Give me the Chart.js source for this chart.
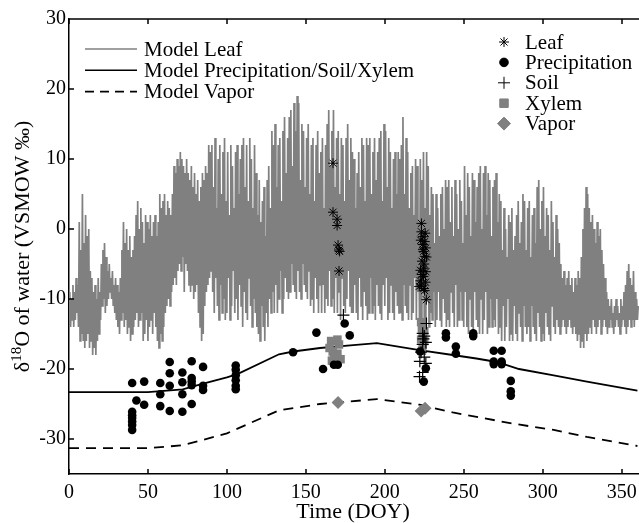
<!DOCTYPE html>
<html>
<head>
<meta charset="utf-8">
<script src="https://cdn.jsdelivr.net/npm/chart.js@4"></script>
<style>
  html, body { margin: 0; padding: 0; background: #fff; overflow: hidden; }
  canvas { display: block; }
</style>
</head>
<body>
<canvas id="myChart" width="639" height="523"></canvas>
<script>
// axis ticks
const xTicks = [0, 50, 100, 150, 200, 250, 300, 350]
const yTicks = [-30, -20, -10, 0, 10, 20, 30]

// model leaf water, daily min / max (day 0..360)
const leafMax = [
  -9, -10, -8, -9, -7, -8, 1, -3, 5, -2,
  2, -1, 0, -6, -7, -9, -8, -10, -7, -9,
  -5, -3, -2, -4, -6, -5, -7, -6, -8, -7,
  -8, -9, -7, -3, 1, -2, 0, -3, -1, -4,
  -3, -1, 2, 4, 0, 3, 1, -2, 2, 1,
  0, 2, -1, 1, 2, -1, 1, 5, 3, 4,
  5, 2, 4, 3, 2, 5, 9, 8, 10, 9,
  11, 10, 9, 8, 10, 8, 7, 9, 6, 8,
  5, 7, 4, 6, 8, 7, 9, 8, 12, 11,
  12, 6, 13, 3, 10, 12, 5, 11, 13, 4,
  11, 2, 12, 9, 3, 11, 12, 5, 10, 12,
  13, 6, 12, 4, 13, 10, 3, 12, 8, 2,
  7, 1, 4, 6, -1, 7, 9, 3, 14, 12,
  15, 6, 12, 13, 4, 14, 16, 8, 13, 16,
  17, 9, 18, 14, 19, 18, 7, 15, 14, 6,
  13, 15, 5, 12, 13, 4, 12, 14, 8, 11,
  13, 3, 12, 15, 17, 9, 14, 17, 6, 13,
  14, 5, 13, 12, 4, 13, 15, 7, 13, 11,
  10, 3, 8, 11, 6, 13, 12, 4, 13, 12,
  13, 5, 11, 13, 7, 11, 13, 14, 4, 15,
  14, 6, 13, 11, 3, 10, 11, 5, 11, 10,
  12, 16, 5, 13, 11, 3, 8, 9, 2, 10,
  9, 1, 10, 7, 11, 3, 11, 9, 2, 6,
  5, -2, 5, 3, -1, 5, 6, 0, 7, 6,
  7, 1, 6, -1, 7, 5, 0, 7, 4, -2,
  9, 2, 8, 6, -1, 8, 7, 1, 6, 8,
  9, 0, 8, 9, 2, 8, 7, -1, 6, 7,
  8, 1, 5, 4, -3, 3, 0, -4, 2, 1,
  3, -3, -1, 2, 4, -2, 1, 5, 4, -3,
  3, 4, -4, 2, 3, -2, 6, 7, 0, 4,
  6, -1, 3, 2, -3, 4, 1, -4, 2, 0,
  -2, -5, -7, -6, -8, -7, -6, -8, -7, -9,
  -7, -8, -6, -7, -4, 0, 3, 6, 5, 3,
  1, 2, 0, -2, 1, -1, 0, -3, -5, -7,
  -9, -10, -11, -10, -12, -11, -10, -11, -12, -10,
  -11, -9, -8, -6, -5, -7, -8, -6, -9, -10, -11
]
const leafMin = [
  -13, -14, -13, -14, -13, -12, -14, -16, -15, -16,
  -17, -16, -15, -17, -16, -18, -17, -18, -16, -15,
  -13, -11, -10, -12, -11, -10, -9, -10, -11, -12,
  -13, -14, -15, -13, -12, -14, -13, -15, -14, -16,
  -15, -14, -13, -12, -14, -13, -12, -16, -15, -13,
  -16, -14, -13, -15, -12, -14, -16, -17, -15, -16,
  -14, -12, -11, -10, -11, -9, -8, -7, -8, -6,
  -5, -6, -4, -9, -5, -6, -8, -9, -8, -10,
  -9, -8, -12, -14, -16, -15, -11, -9, -8, -7,
  -6, -9, -12, -7, -11, -13, -8, -12, -10, -13,
  -12, -7, -13, -11, -6, -12, -10, -13, -8, -11,
  -14, -9, -12, -13, -7, -11, -14, -10, -12, -14,
  -15, -16, -11, -14, -16, -12, -14, -10, -12, -9,
  -12, -8, -12, -10, -6, -12, -10, -7, -9, -10,
  -9, -5, -8, -9, -10, -6, -9, -10, -5, -8,
  -9, -10, -6, -11, -10, -12, -7, -10, -12, -8,
  -12, -8, -12, -10, -11, -6, -11, -10, -12, -7,
  -12, -9, -13, -7, -11, -12, -10, -6, -11, -12,
  -12, -8, -12, -13, -7, -11, -13, -9, -11, -13,
  -12, -7, -12, -11, -13, -8, -11, -12, -13, -8,
  -11, -7, -13, -12, -8, -12, -13, -9, -11, -12,
  -12, -13, -8, -11, -12, -13, -8, -13, -12, -7,
  -13, -9, -14, -13, -8, -13, -14, -10, -14, -12,
  -13, -9, -14, -13, -9, -13, -14, -10, -12, -14,
  -13, -14, -9, -12, -14, -8, -14, -13, -9, -13,
  -14, -9, -14, -15, -10, -14, -15, -9, -13, -14,
  -15, -10, -15, -13, -9, -15, -14, -10, -14, -13,
  -14, -10, -15, -14, -16, -11, -16, -14, -10, -16,
  -15, -16, -11, -15, -16, -12, -14, -16, -11, -14,
  -15, -14, -16, -11, -14, -15, -16, -12, -14, -16,
  -15, -16, -12, -14, -15, -16, -11, -14, -15, -13,
  -14, -15, -14, -13, -14, -15, -14, -13, -14, -15,
  -14, -15, -16, -15, -17, -16, -17, -15, -16, -15,
  -14, -15, -13, -14, -15, -14, -13, -15, -14, -13,
  -14, -15, -14, -13, -14, -15, -14, -13, -14, -15,
  -14, -13, -14, -15, -14, -13, -14, -13, -14, -13, -13
]

// model precipitation/soil/xylem and model vapor
const modelDays = [0, 50, 72, 85, 100, 107, 133, 142, 159, 180, 195, 222, 243, 258, 271, 285, 307, 328, 360]
const modelPrecip = [-23.3, -23.3, -22.9, -22.1, -21.2, -20.7, -17.9, -17.5, -17.0, -16.6, -16.3, -17.3, -18.0, -18.5, -19.0, -20.0, -20.9, -21.8, -23.1]
const vaporDays = [0, 50, 72, 100, 133, 159, 195, 222, 243, 281, 307, 328, 355, 360]
const modelVapor = [-31.3, -31.3, -30.9, -29.2, -25.9, -25.0, -24.3, -25.1, -26.2, -27.8, -28.7, -29.7, -30.8, -31.0]

// measured samples
const leafX = [167.2, 167.2, 169.8, 169.8, 170.4, 171, 171.4, 171,
  223.2, 223.2, 224.2, 225.3, 226, 224.5, 225.3, 224.5, 226, 224.5, 222.5, 223.2, 224.8, 221.8, 226.3,
  222.8, 224, 225.6, 223.6, 225, 226.4, 223.4, 225.8, 224.2, 222.6, 225.2]
const leafY = [9.4, 2.4, 1.4, 0.5, -2.3, -3.0, -3.2, -6.0,
  0.8, -0.4, -1.1, -1.8, -2.7, -3.2, -3.9, -5.6, -6.1, -6.8, -7.4, -8.0, -8.5, -8.2, -10.1,
  -1.6, -2.2, -0.6, -4.6, -5.0, -4.0, -6.5, -7.6, -2.9, -5.9, -8.8]
const precipX = [40, 40, 40, 40, 40, 40, 40, 42.7, 47.6, 47.6, 57.8, 57.8, 57.8, 63.8, 63.8, 63.8, 63.8, 71.8, 71.8, 71.8, 71.8,
  77.7, 77.7, 77.7, 77.7, 77.7, 84.9, 84.9, 84.9, 105.6, 105.6, 105.6, 105.6, 105.6, 105.6, 141.9, 156.7, 160.9, 167.8, 170.2,
  174.6, 177.8, 222.4, 226, 224.7, 238.7, 238.7, 245, 245, 256, 256, 269, 269, 269, 274, 274, 274, 279.8, 279.8, 279.8]
const precipY = [-22.0, -26.1, -26.6, -27.0, -27.5, -28.0, -28.7, -24.5, -21.8, -25.1, -22.0, -23.6, -25.3, -19.0, -20.6, -22.4, -26.0, -20.5, -21.9, -23.6, -26.1,
  -18.9, -21.3, -21.8, -22.3, -25.0, -19.7, -22.4, -23.0, -19.5, -20.1, -20.9, -21.6, -22.4, -22.9, -17.6, -14.8, -20.0, -19.4, -19.4,
  -13.5, -15.2, -17.5, -19.9, -21.8, -14.9, -15.5, -16.8, -17.8, -14.9, -15.3, -17.4, -18.95, -19.3, -17.4, -18.95, -19.3, -21.7, -23.2, -23.8]
const soilX = [173.8, 226.4, 224, 225, 224.5, 226, 224, 223, 225, 222.2, 226, 222, 224]
const soilY = [-12.3, -13.5, -14.9, -15.3, -15.7, -16.2, -16.5, -17.6, -18.3, -18.9, -19.2, -21.1, -20.5]
const xylemX = [165, 166, 167, 168, 166.5, 170, 171, 172, 170, 223, 223.5, 224, 223, 224, 223.5, 225, 225]
const xylemY = [-17.0, -16.0, -17.5, -18.5, -18.8, -15.8, -16.5, -18.6, -17.8, -13.3, -14.2, -15.0, -15.8, -16.6, -17.4, -14.6, -16.0]
const vaporX = [170.4, 223, 225.5]
const vaporY = [-24.8, -26.0, -25.6]

const GRAY = '#808080'
const FONT = '"Liberation Serif", "Times New Roman", serif'

const pts = (xs, ys) => xs.map((x, i) => ({ x: x, y: ys[i] }))

// leaf trace zig-zags between the daily low and high
const leafPts = []
leafMax.forEach((hi, d) => {
  leafPts.push({ x: d, y: leafMin[d] })
  leafPts.push({ x: d + 0.5, y: hi })
})

const lineLegend = [
  { label: 'Model Leaf', color: GRAY, dash: [] },
  { label: 'Model Precipitation/Soil/Xylem', color: '#000', dash: [] },
  { label: 'Model Vapor', color: '#000', dash: [9, 6] }
]
const markLegend = [
  { label: 'Leaf', style: 'star', radius: 5, fill: '#000', stroke: '#000' },
  { label: 'Precipitation', style: 'circle', radius: 4.3, fill: '#000', stroke: '#000' },
  { label: 'Soil', style: 'cross', radius: 6, fill: '#000', stroke: '#000' },
  { label: 'Xylem', style: 'rect', radius: 6, fill: GRAY, stroke: GRAY },
  { label: 'Vapor', style: 'rectRot', radius: 6.5, fill: GRAY, stroke: GRAY }
]

const framePlugin = {
  id: 'frame',
  afterDatasetsDraw(chart) {
    const ctx = chart.ctx
    const a = chart.chartArea
    const xs = chart.scales.x
    const ys = chart.scales.y
    ctx.save()
    ctx.strokeStyle = '#000'
    ctx.lineWidth = 1.5
    ctx.beginPath()
    ctx.moveTo(a.left, a.top)
    ctx.lineTo(a.right + 1, a.top)
    xTicks.forEach(v => {
      const px = Math.round(xs.getPixelForValue(v))
      ctx.moveTo(px, a.bottom); ctx.lineTo(px, a.bottom - 5)
      ctx.moveTo(px, a.top); ctx.lineTo(px, a.top + 5)
    })
    yTicks.forEach(v => {
      const py = Math.round(ys.getPixelForValue(v))
      ctx.moveTo(a.left, py); ctx.lineTo(a.left + 5, py)
    })
    ctx.stroke()

    // legends
    ctx.font = '21px ' + FONT
    ctx.textBaseline = 'middle'
    ctx.fillStyle = '#000'
    lineLegend.forEach((it, i) => {
      const y = 49 + i * 21.3
      ctx.strokeStyle = it.color
      ctx.lineWidth = 1.6
      ctx.setLineDash(it.dash)
      ctx.beginPath(); ctx.moveTo(85, y); ctx.lineTo(137, y); ctx.stroke()
      ctx.setLineDash([])
      ctx.fillStyle = '#000'
      ctx.fillText(it.label, 144, y + 1)
    })
    markLegend.forEach((it, i) => {
      const y = 42 + i * 20.4
      ctx.fillStyle = it.fill
      ctx.strokeStyle = it.stroke
      ctx.lineWidth = 1
      Chart.helpers.drawPoint(ctx, { pointStyle: it.style, radius: it.radius, borderWidth: 1, rotation: 0 }, 504, y)
      ctx.fillStyle = '#000'
      ctx.fillText(it.label, 525, y + 1)
    })

    // axis titles
    ctx.font = '22px ' + FONT
    ctx.textAlign = 'center'
    ctx.textBaseline = 'alphabetic'
    ctx.fillText('Time (DOY)', 353, 518)

    ctx.translate(29, (a.top + a.bottom) / 2)
    ctx.rotate(-Math.PI / 2)
    const big = '22px ' + FONT
    const small = '15px ' + FONT
    const parts = [['δ', big, 0], ['18', small, -8], ['O of water (VSMOW ‰)', big, 0]]
    let w = 0
    parts.forEach(p => { ctx.font = p[1]; w += ctx.measureText(p[0]).width })
    let x0 = -w / 2
    ctx.textAlign = 'left'
    parts.forEach(p => {
      ctx.font = p[1]
      ctx.fillText(p[0], x0, p[2])
      x0 += ctx.measureText(p[0]).width
    })
    ctx.restore()
  }
}

new Chart(document.getElementById('myChart'), {
  type: 'scatter',
  data: {
    datasets: [
      { label: 'Leaf', data: pts(leafX, leafY), pointStyle: 'star', pointRadius: 5, borderColor: '#000', borderWidth: 1, order: 1 },
      { label: 'Precipitation', data: pts(precipX, precipY), pointStyle: 'circle', pointRadius: 4.3, backgroundColor: '#000', borderColor: '#000', borderWidth: 0, order: 2 },
      { label: 'Soil', data: pts(soilX, soilY), pointStyle: 'cross', pointRadius: 6, borderColor: '#000', borderWidth: 1.2, order: 1 },
      { label: 'Xylem', data: pts(xylemX, xylemY), pointStyle: 'rect', pointRadius: 6, backgroundColor: GRAY, borderColor: GRAY, borderWidth: 0, order: 3 },
      { label: 'Vapor', data: pts(vaporX, vaporY), pointStyle: 'rectRot', pointRadius: 6.5, backgroundColor: GRAY, borderColor: GRAY, borderWidth: 0, order: 3 },
      { label: 'Model Precipitation/Soil/Xylem', data: pts(modelDays, modelPrecip), showLine: true, pointRadius: 0, borderColor: '#000', borderWidth: 1.8, order: 4 },
      { label: 'Model Vapor', data: pts(vaporDays, modelVapor), showLine: true, pointRadius: 0, borderColor: '#000', borderWidth: 1.8, borderDash: [10, 7], order: 4 },
      { label: 'Model Leaf', data: leafPts, showLine: true, pointRadius: 0, borderColor: GRAY, borderWidth: 1.7, order: 10 }
    ]
  },
  options: {
    responsive: false,
    animation: false,
    devicePixelRatio: 1,
    layout: { autoPadding: false, padding: { top: 19, right: 0, left: 0, bottom: 0 } },
    plugins: { legend: { display: false }, tooltip: { enabled: false } },
    scales: {
      x: {
        type: 'linear', min: 0, max: 361,
        grid: { display: false, drawTicks: false },
        border: { display: true, color: '#000', width: 1.5 },
        afterBuildTicks: s => { s.ticks = xTicks.map(v => ({ value: v })) },
        afterFit: s => { s.height = 49; s.paddingLeft = 0; s.paddingRight = 0 },
        ticks: { color: '#000', font: { family: FONT, size: 20 }, padding: 7, maxRotation: 0 }
      },
      y: {
        type: 'linear', min: -35, max: 30,
        grid: { display: false, drawTicks: false },
        border: { display: true, color: '#000', width: 1.5 },
        afterBuildTicks: s => { s.ticks = yTicks.map(v => ({ value: v })) },
        afterFit: s => { s.width = 69; s.paddingTop = 0; s.paddingBottom = 0 },
        ticks: { color: '#000', font: { family: FONT, size: 20 }, padding: 3 }
      }
    }
  },
  plugins: [framePlugin]
})
</script>
</body>
</html>
